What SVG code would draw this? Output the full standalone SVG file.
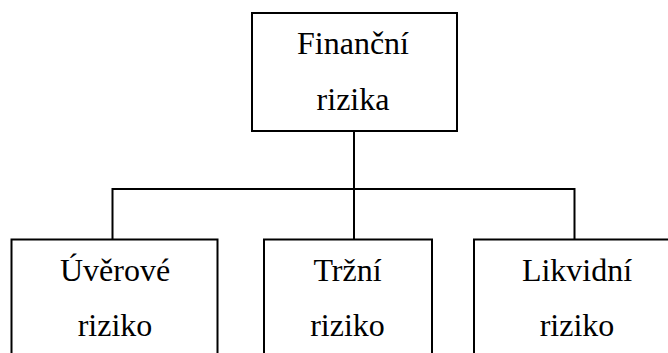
<svg xmlns="http://www.w3.org/2000/svg" width="668" height="353" viewBox="0 0 668 353">
  <style>
    .box { fill: #ffffff; stroke: #000000; stroke-width: 2; }
    .wire { fill: none; stroke: #000000; stroke-width: 2; }
    .label { font-family: 'Liberation Serif', Tinos, 'Times New Roman', Times, 'Nimbus Roman', 'DejaVu Serif', serif; font-size: 32px; fill: #000000; text-anchor: middle; }
  </style>
  <rect x="0" y="0" width="668" height="353" fill="#ffffff"/>

  <g id="connectors">
    <line class="wire" x1="354" y1="131" x2="354" y2="239"/>
    <polyline class="wire" points="112.5,239.5 112.5,189 574.5,189 574.5,239.5"/>
  </g>

  <g id="financni-rizika">
    <rect class="box" x="252" y="13" width="205" height="118"/>
    <text class="label" x="353" y="54">Finanční</text>
    <text class="label" x="353" y="110">rizika</text>
  </g>

  <g id="uverove-riziko">
    <rect class="box" x="11.5" y="239.5" width="206" height="130"/>
    <text class="label" x="115" y="281">Úvěrové</text>
    <text class="label" x="115" y="336">riziko</text>
  </g>

  <g id="trzni-riziko">
    <rect class="box" x="264" y="239.5" width="168" height="130"/>
    <text class="label" x="347.5" y="281">Tržní</text>
    <text class="label" x="347.5" y="336">riziko</text>
  </g>

  <g id="likvidni-riziko">
    <rect class="box" x="474" y="239.5" width="210" height="130"/>
    <text class="label" x="577" y="281">Likvidní</text>
    <text class="label" x="577" y="336">riziko</text>
  </g>
</svg>
